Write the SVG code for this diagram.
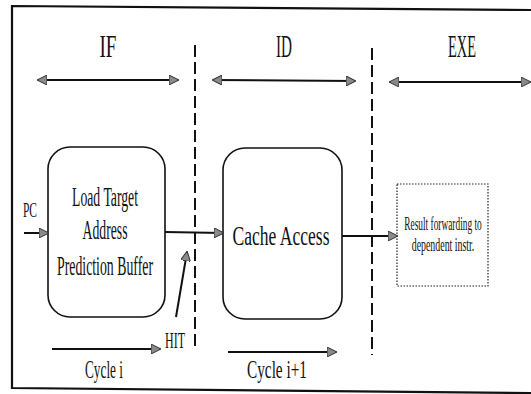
<svg xmlns="http://www.w3.org/2000/svg" width="531" height="394" viewBox="0 0 531 394">
  <style>
    .t { font-family: "Liberation Serif", "DejaVu Serif", "Times New Roman", serif; fill: #111; text-anchor: middle; }
    .box { fill: none; stroke: #111; stroke-width: 1.6; }
    .dotbox { fill: none; stroke: #222; stroke-width: 1.2; stroke-dasharray: 1.5 1.5; }
    .arr { fill: none; stroke: #111; stroke-width: 2; }
    .dash { fill: none; stroke: #111; stroke-width: 2; stroke-dasharray: 12 5; }
    .frame { fill: none; stroke: #111; stroke-width: 2.2; }
  </style>
  <defs>
    <marker id="head" viewBox="0 0 10 10" refX="9" refY="5" markerWidth="5" markerHeight="5" orient="auto-start-reverse" markerUnits="strokeWidth">
      <path d="M0,0 L10,5 L0,10 Z" fill="#8a8a8a" stroke="#333" stroke-width="1"/>
    </marker>
  </defs>

  <rect width="531" height="394" fill="#fff"/>

  <!-- outer frame (open on the right) -->
  <path class="frame" d="M531,10 L12,6 L12,388 L531,393"/>

  <!-- stage labels -->
  <text class="t" x="108" y="57" font-size="32" textLength="17" lengthAdjust="spacingAndGlyphs">IF</text>
  <text class="t" x="284" y="57" font-size="32" textLength="16" lengthAdjust="spacingAndGlyphs">ID</text>
  <text class="t" x="462" y="57" font-size="32" textLength="28" lengthAdjust="spacingAndGlyphs">EXE</text>

  <!-- stage boundaries -->
  <g id="boundaries">
    <line class="dash" x1="195" y1="45" x2="195" y2="350"/>
    <line class="dash" x1="372" y1="48" x2="372" y2="355"/>
  </g>

  <!-- nodes -->
  <g id="ltapb">
    <rect class="box" x="48" y="147" width="117" height="170" rx="22" ry="22"/>
    <text class="t" x="105" y="206" font-size="28" textLength="66" lengthAdjust="spacingAndGlyphs">Load Target</text>
    <text class="t" x="105" y="239" font-size="28" textLength="45" lengthAdjust="spacingAndGlyphs">Address</text>
    <text class="t" x="105" y="275" font-size="28" textLength="96" lengthAdjust="spacingAndGlyphs">Prediction Buffer</text>
  </g>

  <g id="cache">
    <rect class="box" x="223" y="148" width="119" height="171" rx="22" ry="22"/>
    <text class="t" x="281" y="245" font-size="28" textLength="97" lengthAdjust="spacingAndGlyphs">Cache Access</text>
  </g>

  <g id="forward">
    <rect class="dotbox" x="397" y="184" width="91" height="102"/>
    <!-- condensed by horizontal scaling so the text box stays inside the frame -->
    <text class="t" transform="translate(443,230) scale(0.52,1)" font-size="18">Result forwarding to</text>
    <text class="t" transform="translate(443,251) scale(0.55,1)" font-size="18">dependent instr.</text>
  </g>

  <g id="pc">
    <text class="t" x="30" y="217" font-size="21" textLength="14" lengthAdjust="spacingAndGlyphs">PC</text>
  </g>

  <g id="hit">
    <text class="t" x="175" y="348" font-size="24" textLength="20" lengthAdjust="spacingAndGlyphs">HIT</text>
  </g>

  <g id="cycles">
    <text class="t" x="104" y="378" font-size="26" textLength="38" lengthAdjust="spacingAndGlyphs">Cycle i</text>
    <text class="t" x="277" y="378" font-size="26" textLength="60" lengthAdjust="spacingAndGlyphs">Cycle i+1</text>
  </g>

  <!-- connectors -->
  <g id="connectors">
    <line class="arr" x1="38" y1="80" x2="178" y2="80" marker-start="url(#head)" marker-end="url(#head)"/>
    <line class="arr" x1="213" y1="80" x2="355" y2="81" marker-start="url(#head)" marker-end="url(#head)"/>
    <line class="arr" x1="390" y1="82" x2="530" y2="82" marker-start="url(#head)" marker-end="url(#head)"/>

    <line class="arr" x1="24" y1="233" x2="48" y2="233" marker-end="url(#head)"/>
    <line class="arr" x1="165" y1="232" x2="223" y2="233" marker-end="url(#head)"/>
    <line class="arr" x1="342" y1="236" x2="397" y2="236" marker-end="url(#head)"/>
    <line class="arr" x1="176" y1="317" x2="187" y2="252" marker-end="url(#head)"/>

    <line class="arr" x1="52" y1="349" x2="160" y2="349" marker-end="url(#head)"/>
    <line class="arr" x1="228" y1="352" x2="336" y2="352" marker-end="url(#head)"/>
  </g>
</svg>
